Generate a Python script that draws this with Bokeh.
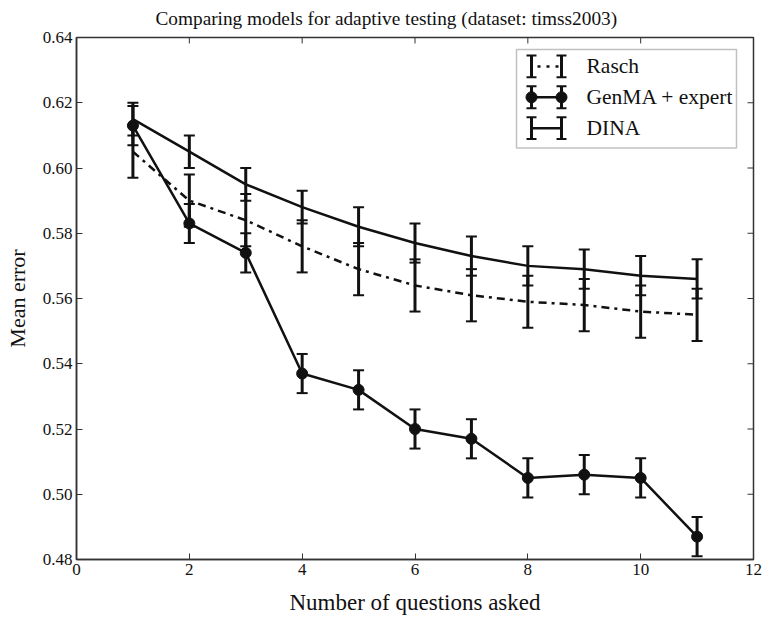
from bokeh.plotting import figure
from bokeh.models import (ColumnDataSource, Whisker, TeeHead, FixedTicker,
                          BoxAnnotation, Label, Range1d, CustomJSTickFormatter)
from bokeh.embed import file_html
from bokeh.resources import INLINE

# ---------------- data ----------------
questions = [1, 2, 3, 4, 5, 6, 7, 8, 9, 10, 11]
rasch = [0.605, 0.590, 0.584, 0.576, 0.569, 0.564, 0.561, 0.559, 0.558, 0.556, 0.555]
rasch_err = [0.008] * 11
genma = [0.613, 0.583, 0.574, 0.537, 0.532, 0.520, 0.517, 0.505, 0.506, 0.505, 0.487]
genma_err = [0.006] * 11
dina = [0.615, 0.605, 0.595, 0.588, 0.582, 0.577, 0.573, 0.570, 0.569, 0.567, 0.566]
dina_err = [0.005, 0.005, 0.005, 0.005, 0.006, 0.006, 0.006, 0.006, 0.006, 0.006, 0.006]
x_ticks = [0, 2, 4, 6, 8, 10, 12]
y_ticks = [0.48, 0.50, 0.52, 0.54, 0.56, 0.58, 0.60, 0.62, 0.64]
series_names = ["Rasch", "GenMA + expert", "DINA"]
title_text = "Comparing models for adaptive testing (dataset: timss2003)"
x_label = "Number of questions asked"
y_label = "Mean error"

FONT = "Liberation Serif"
INK = "#111111"
FRAME = "#333333"

X0, X1 = 0, 12
Y0, Y1 = 0.48, 0.64
W, H = 765, 619
FL, FR, FT, FB = 76.0, 753.0, 35.0, 559.0  # frame position in pixels

p = figure(width=W, height=H, output_backend="svg", toolbar_location=None,
           x_range=Range1d(X0, X1), y_range=Range1d(Y0, Y1),
           min_border_left=int(FL), min_border_right=int(W - FR),
           min_border_top=int(FT), min_border_bottom=int(H - FB))
p.title.text = title_text
p.title.text_font = FONT
p.title.text_font_size = "19.3px"
p.title.text_font_style = "normal"
p.title.text_color = INK
p.title.align = "left"
p.title.vertical_align = "top"
p.title.offset = 79
p.title.standoff = 14

p.grid.visible = False
p.background_fill_color = "white"
p.border_fill_color = "white"
p.outline_line_color = FRAME
p.outline_line_width = 1.5


def style_axis(ax, ticks):
    ax.ticker = FixedTicker(ticks=ticks)
    ax.axis_line_color = FRAME
    ax.axis_line_width = 1.5
    ax.major_tick_in = 6
    ax.major_tick_out = 0
    ax.major_tick_line_color = FRAME
    ax.major_tick_line_width = 1
    ax.minor_tick_line_color = None
    ax.major_label_text_font = FONT
    ax.major_label_text_font_size = "17px"
    ax.major_label_text_color = INK
    ax.major_label_standoff = 4
    ax.axis_label_text_font = FONT
    ax.axis_label_text_font_style = "normal"
    ax.axis_label_text_color = INK


xa = p.xaxis[0]
style_axis(xa, x_ticks)
xa.axis_label = x_label
xa.axis_label_text_font_size = "23px"
xa.axis_label_standoff = 12

ya = p.yaxis[0]
style_axis(ya, y_ticks)
ya.axis_label = y_label
ya.axis_label_text_font_size = "22px"
ya.axis_label_standoff = 10
ya.formatter = CustomJSTickFormatter(code="return tick.toFixed(2);")


def dx(px):
    return X0 + (px - FL) / (FR - FL) * (X1 - X0)


def dy(py):
    return Y1 - (py - FT) / (FB - FT) * (Y1 - Y0)


# inward ticks on the top and right edges of the frame
tick_dy = 6 / (FB - FT) * (Y1 - Y0)
tick_dx = 6 / (FR - FL) * (X1 - X0)
p.segment(x0=x_ticks, x1=x_ticks, y0=[Y1] * len(x_ticks), y1=[Y1 - tick_dy] * len(x_ticks),
          line_color=FRAME, line_width=1)
p.segment(x0=[X1] * len(y_ticks), x1=[X1 - tick_dx] * len(y_ticks), y0=y_ticks, y1=y_ticks,
          line_color=FRAME, line_width=1)


def whiskers(vals, errs):
    src = ColumnDataSource(dict(x=questions,
                                upper=[v + e for v, e in zip(vals, errs)],
                                lower=[v - e for v, e in zip(vals, errs)]))
    w = Whisker(source=src, base="x", upper="upper", lower="lower",
                line_width=3, line_color=INK,
                upper_head=TeeHead(size=11, line_width=2, line_color=INK),
                lower_head=TeeHead(size=11, line_width=2, line_color=INK))
    w.level = "glyph"
    p.add_layout(w)


whiskers(rasch, rasch_err)
whiskers(genma, genma_err)
whiskers(dina, dina_err)

DASH = "8 5 3 5"
p.line(questions, rasch, line_width=2.5, line_color=INK, line_dash=DASH)
p.line(questions, genma, line_width=2.5, line_color=INK)
p.scatter(questions, genma, size=11, marker="circle", fill_color=INK, line_color=INK)
p.line(questions, dina, line_width=2.5, line_color=INK)

# ---------------- legend (pixel layout converted to data units) ----------------
box = BoxAnnotation(left=dx(516), right=dx(736), top=dy(47), bottom=dy(146),
                    fill_color="white", fill_alpha=1.0, line_color=FRAME, line_width=1.5,
                    level="underlay")
p.add_layout(box)

row_y = [64, 95, 126]
bx0, bx1 = 531, 561
for i, name in enumerate(series_names):
    yc = row_y[i]
    p.segment(x0=[dx(bx0), dx(bx1)], x1=[dx(bx0), dx(bx1)],
              y0=[dy(yc - 11)] * 2, y1=[dy(yc + 11)] * 2, line_width=3, line_color=INK)
    p.segment(x0=[dx(bx0 - 5), dx(bx1 - 5), dx(bx0 - 5), dx(bx1 - 5)],
              x1=[dx(bx0 + 5), dx(bx1 + 5), dx(bx0 + 5), dx(bx1 + 5)],
              y0=[dy(yc - 11)] * 2 + [dy(yc + 11)] * 2,
              y1=[dy(yc - 11)] * 2 + [dy(yc + 11)] * 2, line_width=2, line_color=INK)
    if i == 0:
        p.line([dx(bx0), dx(bx1)], [dy(yc), dy(yc)], line_width=2.5, line_color=INK,
               line_dash="3 6 3 6", line_dash_offset=-6)
    else:
        p.line([dx(bx0), dx(bx1)], [dy(yc), dy(yc)], line_width=2.5, line_color=INK)
    if i == 1:
        p.scatter([dx(bx0), dx(bx1)], [dy(yc), dy(yc)], size=11, marker="circle",
                  fill_color=INK, line_color=INK)
    p.add_layout(Label(x=dx(586), y=dy(yc), text=name, text_font=FONT,
                       text_font_size="21.5px", text_color=INK, text_baseline="middle"))

open("out.html", "w").write(file_html(p, INLINE))
